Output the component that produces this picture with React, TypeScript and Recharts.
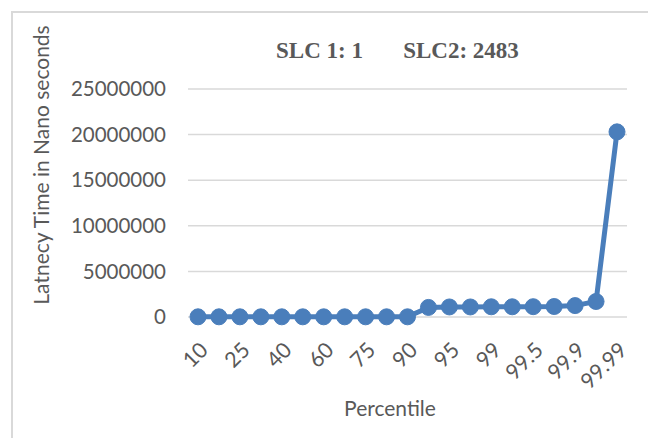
import React from 'react';
import { LineChart, Line, XAxis, YAxis, CartesianGrid } from 'recharts';

const percentiles = ['10', '20', '25', '30', '40', '50', '60', '70', '75', '80', '90', '93', '95', '97', '99', '99.3', '99.5', '99.7', '99.9', '99.95', '99.99'];
const latencyNs = [20000, 20000, 20000, 20000, 20000, 20000, 20000, 20000, 20000, 20000, 20000, 1050000, 1100000, 1100000, 1120000, 1120000, 1130000, 1150000, 1250000, 1700000, 20300000];
const yTicks = [0, 5000000, 10000000, 15000000, 20000000, 25000000];

const data = percentiles.map((p, i) => ({ p, v: latencyNs[i] }));

const FONT = 'Lato, "Open Sans", sans-serif';
const TEXT = '#595959';
const BLUE = '#4a7ebb';

const XTick = (props: any) => {
  const { x, y, payload } = props;
  return (
    <g transform={`translate(${x + 6},${y + 21})`}>
      <text x={0} y={0} textAnchor="end" transform="rotate(-45)" fill={TEXT} fontSize={21.5} fontFamily={FONT} dy="0.35em">
        {payload.value}
      </text>
    </g>
  );
};

export default function App() {
  return (
    <div style={{ position: 'relative', width: 656, height: 446, margin: -8, overflow: 'hidden', background: '#fff' }}>
      <div style={{ position: 'absolute', left: 11, top: 11, width: 640, height: 460, border: '2px solid #d9d9d9', boxSizing: 'border-box' }} />
      <div style={{ position: 'absolute', left: 276, top: 37, fontFamily: '"Liberation Serif", "Times New Roman", serif', fontWeight: 'bold', fontSize: 23, lineHeight: '28px', color: TEXT, whiteSpace: 'pre' }}>
        {'SLC 1: 1       SLC2: 2483'}
      </div>
      <div style={{ position: 'absolute', left: 0, top: 0 }}>
        <LineChart width={656} height={446} data={data} margin={{ top: 89, right: 29, left: 0, bottom: 39 }}>
          <CartesianGrid horizontal={true} vertical={false} stroke="#d9d9d9" strokeWidth={1.5} />
          <XAxis
            dataKey="p"
            interval={1}
            axisLine={false}
            tickLine={false}
            height={90}
            padding={{ left: 10, right: 10 }}
            tick={<XTick />}
            label={{
              content: () => (
                <text x={390} y={407} textAnchor="middle" dominantBaseline="central" fill={TEXT} fontSize={21} fontFamily={FONT}>
                  Percentile
                </text>
              ),
            }}
          />
          <YAxis
            width={188}
            domain={[0, 25000000]}
            ticks={yTicks}
            axisLine={false}
            tickLine={false}
            tickSize={0}
            tickMargin={22}
            tick={{ fill: TEXT, fontSize: 20.5, fontFamily: FONT }}
            label={{
              content: () => (
                <text x={40} y={165} transform="rotate(-90 40 165)" textAnchor="middle" dominantBaseline="central" fill={TEXT} fontSize={21} fontFamily={FONT}>
                  Latnecy Time in Nano seconds
                </text>
              ),
            }}
          />
          <Line type="linear" dataKey="v" stroke={BLUE} strokeWidth={5} dot={{ r: 8, fill: BLUE, stroke: BLUE, strokeWidth: 1 }} activeDot={false} isAnimationActive={false} />
        </LineChart>
      </div>
    </div>
  );
}
